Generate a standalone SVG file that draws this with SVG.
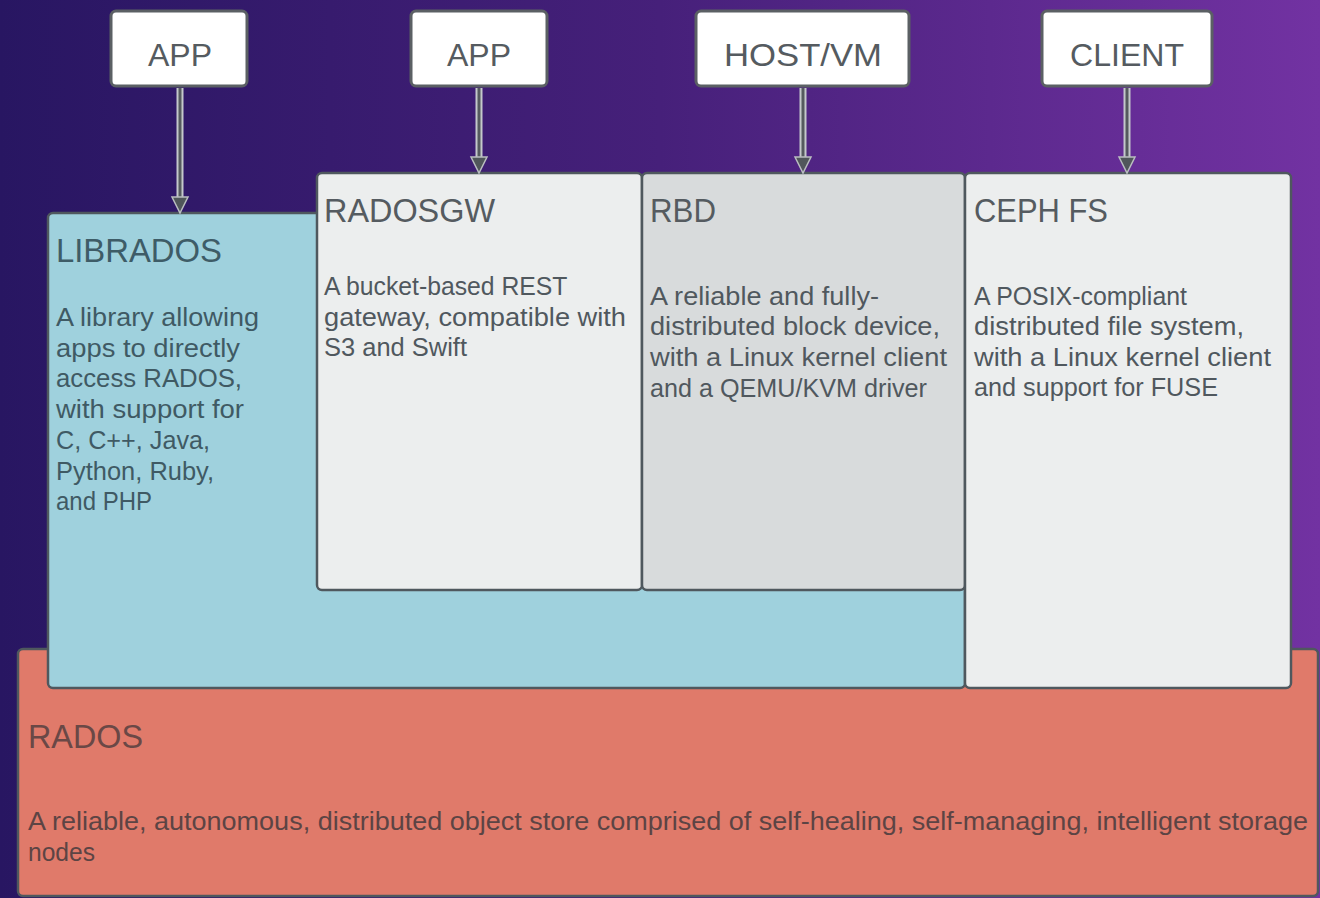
<svg xmlns="http://www.w3.org/2000/svg" width="1320" height="898" viewBox="0 0 1320 898">
<defs>
<linearGradient id="bg" x1="0" y1="0" x2="1" y2="0">
<stop offset="0" stop-color="#281662"/>
<stop offset="0.5" stop-color="#46207a"/>
<stop offset="1" stop-color="#7232a2"/>
</linearGradient>
<style>
.box{stroke:#4f585e;stroke-width:2.5}
.top{fill:#ffffff;stroke:#5b6064;stroke-width:3}
.t{font-family:"Liberation Sans",Arial,sans-serif}
.h{font-size:34px}
.ht{font-size:32px}
.b{font-size:26px}
.line1{stroke:#c4c8cb;stroke-width:7;fill:none}
.line2{stroke:#555a5e;stroke-width:3;fill:none}
.head{fill:#50565a;stroke:#b9bdc0;stroke-width:1.5}
</style>
</defs>
<rect x="0" y="0" width="1320" height="898" fill="url(#bg)"/>

<g id="rados">
<rect class="box" x="18" y="649" width="1300" height="247" rx="5" fill="#e07a6a"/>
<text class="t h" x="28" y="748" fill="#6a4846" textLength="115" lengthAdjust="spacingAndGlyphs">RADOS</text>
<text class="t b" fill="#5c4444">
<tspan x="28" y="830" textLength="1280" lengthAdjust="spacingAndGlyphs">A reliable, autonomous, distributed object store comprised of self-healing, self-managing, intelligent storage</tspan>
<tspan x="28" y="861" textLength="67" lengthAdjust="spacingAndGlyphs">nodes</tspan>
</text>
</g>

<g id="librados">
<rect class="box" x="48" y="213" width="917" height="475" rx="5" fill="#9fd1dd"/>
<text class="t h" x="56" y="262" fill="#3e5c67" textLength="166" lengthAdjust="spacingAndGlyphs">LIBRADOS</text>
<text class="t b" fill="#3f5a64">
<tspan x="56" y="326" textLength="203" lengthAdjust="spacingAndGlyphs">A library allowing</tspan>
<tspan x="56" y="357" textLength="184" lengthAdjust="spacingAndGlyphs">apps to directly</tspan>
<tspan x="56" y="387" textLength="186" lengthAdjust="spacingAndGlyphs">access RADOS,</tspan>
<tspan x="56" y="418" textLength="188" lengthAdjust="spacingAndGlyphs">with support for</tspan>
<tspan x="56" y="449" textLength="154" lengthAdjust="spacingAndGlyphs">C, C++, Java,</tspan>
<tspan x="56" y="480" textLength="158" lengthAdjust="spacingAndGlyphs">Python, Ruby,</tspan>
<tspan x="56" y="510" textLength="96" lengthAdjust="spacingAndGlyphs">and PHP</tspan>
</text>
</g>

<g id="radosgw">
<rect class="box" x="317" y="173" width="325" height="417" rx="5" fill="#eceeee"/>
<text class="t h" x="324" y="222" fill="#555b60" textLength="171" lengthAdjust="spacingAndGlyphs">RADOSGW</text>
<text class="t b" fill="#50585e">
<tspan x="324" y="295" textLength="243" lengthAdjust="spacingAndGlyphs">A bucket-based REST</tspan>
<tspan x="324" y="326" textLength="302" lengthAdjust="spacingAndGlyphs">gateway, compatible with</tspan>
<tspan x="324" y="356" textLength="143" lengthAdjust="spacingAndGlyphs">S3 and Swift</tspan>
</text>
</g>

<g id="rbd">
<rect class="box" x="642" y="173" width="323" height="417" rx="5" fill="#d8dbdc"/>
<text class="t h" x="650" y="222" fill="#555b60" textLength="66" lengthAdjust="spacingAndGlyphs">RBD</text>
<text class="t b" fill="#50585e">
<tspan x="650" y="305" textLength="229" lengthAdjust="spacingAndGlyphs">A reliable and fully-</tspan>
<tspan x="650" y="335" textLength="290" lengthAdjust="spacingAndGlyphs">distributed block device,</tspan>
<tspan x="650" y="366" textLength="297" lengthAdjust="spacingAndGlyphs">with a Linux kernel client</tspan>
<tspan x="650" y="397" textLength="277" lengthAdjust="spacingAndGlyphs">and a QEMU/KVM driver</tspan>
</text>
</g>

<g id="cephfs">
<rect class="box" x="965" y="173" width="326" height="515" rx="5" fill="#eceeee"/>
<text class="t h" x="974" y="222" fill="#555b60" textLength="134" lengthAdjust="spacingAndGlyphs">CEPH FS</text>
<text class="t b" fill="#50585e">
<tspan x="974" y="305" textLength="213" lengthAdjust="spacingAndGlyphs">A POSIX-compliant</tspan>
<tspan x="974" y="335" textLength="270" lengthAdjust="spacingAndGlyphs">distributed file system,</tspan>
<tspan x="974" y="366" textLength="297" lengthAdjust="spacingAndGlyphs">with a Linux kernel client</tspan>
<tspan x="974" y="396" textLength="244" lengthAdjust="spacingAndGlyphs">and support for FUSE</tspan>
</text>
</g>

<g id="app1">
<rect class="top" x="111" y="11" width="136" height="75" rx="5"/>
<text class="t ht" x="148" y="66" fill="#555b60" textLength="64" lengthAdjust="spacingAndGlyphs">APP</text>
</g>
<g id="app2">
<rect class="top" x="411" y="11" width="136" height="75" rx="5"/>
<text class="t ht" x="447" y="66" fill="#555b60" textLength="64" lengthAdjust="spacingAndGlyphs">APP</text>
</g>
<g id="hostvm">
<rect class="top" x="696" y="11" width="213" height="75" rx="5"/>
<text class="t ht" x="724" y="66" fill="#555b60" textLength="158" lengthAdjust="spacingAndGlyphs">HOST/VM</text>
</g>
<g id="client">
<rect class="top" x="1042" y="11" width="170" height="75" rx="5"/>
<text class="t ht" x="1070" y="66" fill="#555b60" textLength="114" lengthAdjust="spacingAndGlyphs">CLIENT</text>
</g>

<g id="connectors">
<path class="line1" d="M180 88 V200 M479 88 V160 M803 88 V160 M1127 88 V160"/>
<path class="line2" d="M180 88 V200 M479 88 V160 M803 88 V160 M1127 88 V160"/>
<polygon class="head" points="172,197 188,197 180,213"/>
<polygon class="head" points="471,157 487,157 479,173"/>
<polygon class="head" points="795,157 811,157 803,173"/>
<polygon class="head" points="1119,157 1135,157 1127,173"/>
</g>
</svg>
